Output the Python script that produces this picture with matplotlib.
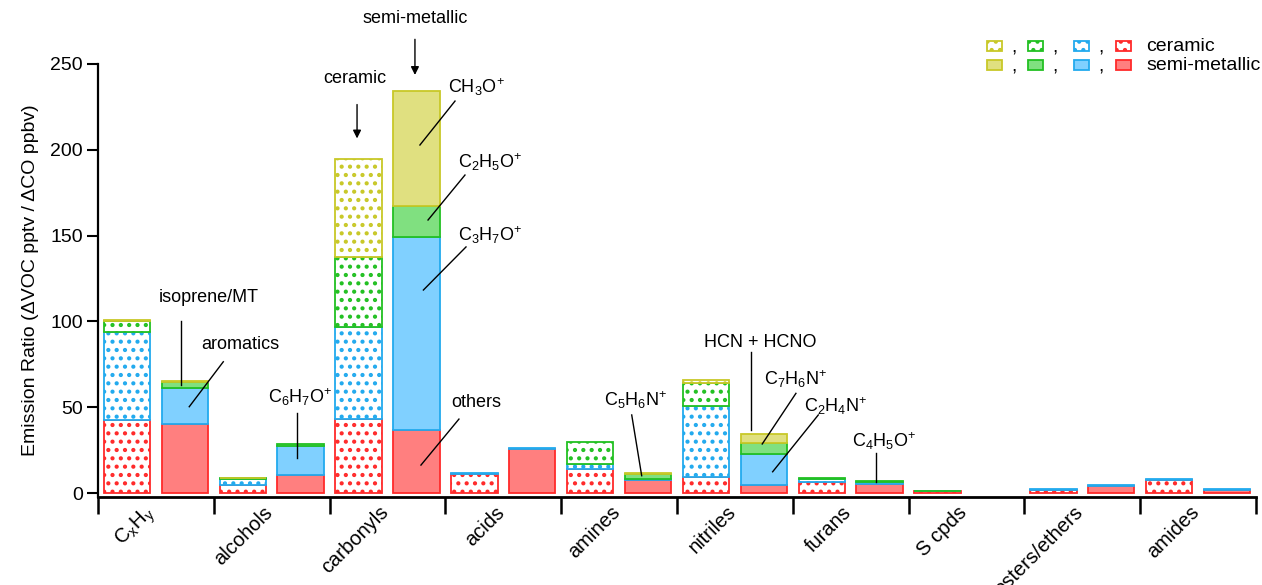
import numpy as np
import matplotlib
matplotlib.use('Agg')
import matplotlib.pyplot as plt
from matplotlib.patches import Rectangle

plt.rcParams['font.family'] = ['Liberation Sans', 'DejaVu Sans']
plt.rcParams['mathtext.fontset'] = 'custom'
plt.rcParams['mathtext.rm'] = 'Liberation Sans'
plt.rcParams['mathtext.it'] = 'Liberation Sans:italic'
plt.rcParams['mathtext.default'] = 'regular'
plt.rcParams['hatch.linewidth'] = 1.8

# categories
categories = ['C$_x$H$_y$', 'alcohols', 'carbonyls', 'acids', 'amines',
              'nitriles', 'furans', 'S cpds', 'esters/ethers', 'amides']

# ceramic (bottom -> top: others, blue, green, yellow)
cer_red = [42.5, 4.7, 43.0, 11.0, 14.0, 9.5, 6.6, 1.0, 1.5, 7.6]
cer_blue = [51.5, 3.3, 53.5, 0.5, 3.0, 41.4, 1.4, 0.1, 0.6, 0.6]
cer_green = [6.0, 0.7, 41.0, 0.0, 12.9, 13.0, 0.9, 0.3, 0.0, 0.0]
cer_yellow = [0.8, 0.3, 57.0, 0.0, 0.0, 2.0, 0.0, 0.0, 0.0, 0.0]

# semi-metallic
sm_red = [40.2, 10.5, 36.7, 25.6, 7.6, 4.7, 5.2, 0.0, 4.0, 1.8]
sm_blue = [20.8, 17.1, 112.7, 0.5, 0.3, 18.0, 1.0, 0.0, 0.5, 0.5]
sm_green = [3.9, 0.8, 17.8, 0.0, 3.1, 6.3, 0.8, 0.0, 0.0, 0.0]
sm_yellow = [0.5, 0.0, 66.8, 0.0, 0.8, 5.4, 0.0, 0.0, 0.0, 0.0]

fills = ['#FF7F7F', '#80D0FF', '#80E080', '#E0E080']
edges = ['#FF2A2A', '#22AAEE', '#22C022', '#C8C828']

fig = plt.figure(figsize=(12.62, 5.85), dpi=100)
ax = fig.add_axes([98/1262, 1 - 497/585, (1256 - 98)/1262, (497 - 64)/585])

x = np.arange(len(categories))
w = 0.40
off = 0.25


def stack(xpos, layers, hatched):
    bottom = np.zeros(len(xpos))
    for k, vals in enumerate(layers):
        vals = np.array(vals, dtype=float)
        m = vals > 0
        if hatched:
            ax.bar(xpos[m], vals[m], w, bottom=bottom[m], facecolor='white',
                   edgecolor=edges[k], hatch='..', linewidth=1.3, zorder=2)
        else:
            ax.bar(xpos[m], vals[m], w, bottom=bottom[m], facecolor=fills[k],
                   edgecolor=edges[k], linewidth=1.3, zorder=2)
        bottom += vals


stack(x - off, [cer_red, cer_blue, cer_green, cer_yellow], True)
stack(x + off, [sm_red, sm_blue, sm_green, sm_yellow], False)

# axes styling
ax.set_xlim(-0.5, len(categories) - 0.5)
ax.set_ylim(-2.3, 250)
ax.spines['top'].set_visible(False)
ax.spines['right'].set_visible(False)
ax.spines['left'].set_linewidth(1.6)
ax.spines['bottom'].set_linewidth(2.0)
ax.set_yticks(np.arange(0, 251, 50))
ax.tick_params(axis='y', direction='out', length=8, width=1.5, labelsize=14, pad=3)
ax.set_xticks(np.arange(-0.5, len(categories), 1.0))
ax.set_xticklabels([])
ax.set_xticks(x + 0.04, minor=True)
ax.set_xticklabels(categories, minor=True, rotation=45, ha='right', fontsize=14.5)
ax.tick_params(axis='x', which='major', direction='out', length=12, width=1.8)
ax.tick_params(axis='x', which='minor', length=0, pad=4)
ax.set_ylabel('Emission Ratio (\u0394VOC pptv / \u0394CO ppbv)', fontsize=14, labelpad=8)

# annotations
fs = 13
tk = dict(color='black', lw=1.0, clip_on=False, zorder=5)
ax.text(2.237, 276.8, 'semi-metallic', fontsize=fs, ha='center', va='center')
ax.annotate('', xy=(2.237, 242), xytext=(2.237, 266),
            arrowprops=dict(arrowstyle='-|>', color='black', lw=1.0, mutation_scale=12),
            annotation_clip=False)
ax.text(1.72, 241.3, 'ceramic', fontsize=fs, ha='center', va='center')
ax.annotate('', xy=(1.737, 205), xytext=(1.737, 228),
            arrowprops=dict(arrowstyle='-|>', color='black', lw=1.0, mutation_scale=12),
            annotation_clip=False)

ax.text(2.764, 236.6, 'CH$_3$O$^{\\!+}$', fontsize=fs, ha='center', va='center')
ax.plot([2.583, 2.28], [228.4, 202.8], **tk)
ax.text(2.885, 192.9, 'C$_2$H$_5$O$^{\\!+}$', fontsize=fs, ha='center', va='center')
ax.plot([2.669, 2.35], [185.3, 159.1], **tk)
ax.text(2.885, 150.3, 'C$_3$H$_7$O$^{\\!+}$', fontsize=fs, ha='center', va='center')
ax.plot([2.678, 2.31], [143.4, 118.3], **tk)
ax.text(2.764, 53.0, 'others', fontsize=fs, ha='center', va='center')
ax.plot([2.617, 2.289], [43.1, 16.3], **tk)

ax.text(0.459, 114.2, 'isoprene/MT', fontsize=fs, ha='center', va='center')
ax.plot([0.217, 0.217], [100.2, 62.9], **tk)
ax.text(0.726, 86.8, 'aromatics', fontsize=fs, ha='center', va='center')
ax.plot([0.582, 0.288], [76.5, 50.3], **tk)
ax.text(1.244, 55.9, 'C$_6$H$_7$O$^{\\!+}$', fontsize=fs, ha='center', va='center')
ax.plot([1.216, 1.216], [46.8, 20.2], **tk)

ax.text(4.146, 54.2, 'C$_5$H$_6$N$^{\\!+}$', fontsize=fs, ha='center', va='center')
ax.plot([4.109, 4.195], [45.5, 10.1], **tk)
ax.text(5.217, 87.6, 'HCN + HCNO', fontsize=fs, ha='center', va='center')
ax.plot([5.137, 5.137], [82.0, 36.7], **tk)
ax.text(5.53, 66.3, 'C$_7$H$_6$N$^{\\!+}$', fontsize=fs, ha='center', va='center')
ax.plot([5.527, 5.236], [58.1, 28.6], **tk)
ax.text(5.873, 50.7, 'C$_2$H$_4$N$^{\\!+}$', fontsize=fs, ha='center', va='center')
ax.plot([5.72, 5.326], [45.5, 12.4], **tk)
ax.text(6.29, 30.3, 'C$_4$H$_5$O$^{\\!+}$', fontsize=fs, ha='center', va='center')
ax.plot([6.218, 6.218], [23.1, 6.6], **tk)

# legend drawn by hand
def fpx(px, py):
    return px / 1262, 1 - py / 585

pw, ph = 15 / 1262, 10 / 585
lx = [987, 1028, 1074, 1116]
order = [3, 2, 1, 0]
for row, (yc, hatched) in enumerate([(46.3, True), (65.2, False)]):
    for k in range(4):
        x0, y0 = fpx(lx[k], yc + 5)
        c = order[k]
        if hatched:
            r = Rectangle((x0, y0), pw, ph, transform=fig.transFigure,
                          facecolor='white', edgecolor=edges[c],
                          hatch='..', linewidth=1.3)
        else:
            r = Rectangle((x0, y0), pw, ph, transform=fig.transFigure,
                          facecolor=fills[c], edgecolor=edges[c], linewidth=1.3)
        fig.add_artist(r)
        if k < 3:
            cx, cy = fpx(lx[k] + 27, yc + 2)
            fig.text(cx, cy, ',', fontsize=14, ha='center', va='center')
    tx, ty = fpx(1146, yc)
    fig.text(tx, ty, 'ceramic' if hatched else 'semi-metallic', fontsize=14,
             ha='left', va='center')

fig.savefig('out.png', dpi=100)
